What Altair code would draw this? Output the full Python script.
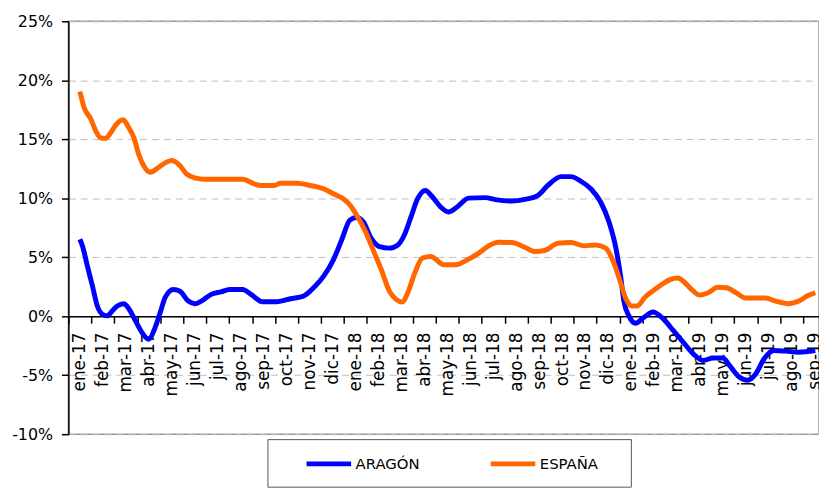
import altair as alt
import pandas as pd

months = ["ene-17", "feb-17", "mar-17", "abr-17", "may-17", "jun-17", "jul-17", "ago-17",
          "sep-17", "oct-17", "nov-17", "dic-17", "ene-18", "feb-18", "mar-18", "abr-18",
          "may-18", "jun-18", "jul-18", "ago-18", "sep-18", "oct-18", "nov-18", "dic-18",
          "ene-19", "feb-19", "mar-19", "abr-19", "may-19", "jun-19", "jul-19", "ago-19",
          "sep-19"]

# position in months (0 = ene-17), value in %
aragon_t = [0.0, 0.12, 0.33, 0.55, 0.76, 0.98, 1.19, 1.41, 1.63, 1.91, 2.13, 2.42, 2.7, 2.99,
            3.28, 3.5, 3.71, 4.07, 4.36, 4.72, 5.01, 5.29, 5.72, 6.15, 6.52, 7.09, 7.45, 7.95,
            8.6, 9.17, 9.75, 10.18, 10.61, 11.04, 11.4, 11.76, 12.05, 12.34, 12.69, 13.05,
            13.48, 13.85, 14.13, 14.42, 14.71, 15.04, 15.36, 15.71, 16.05, 16.43, 16.93,
            17.65, 18.09, 18.81, 19.38, 19.95, 20.38, 20.96, 21.39, 21.82, 22.25, 22.68,
            23.04, 23.33, 23.55, 23.69, 23.91, 24.2, 24.56, 24.96, 25.42, 25.85, 26.28,
            26.71, 27.14, 27.57, 28.0, 28.29, 28.72, 29.08, 29.44, 29.8, 30.23, 30.73,
            31.31, 32.03]
aragon_v = [6.52, 5.9, 4.22, 2.54, 0.86, 0.17, 0.03, 0.45, 0.86, 1.06, 0.64, -0.39, -1.37, -1.95,
            -0.95, 0.31, 1.57, 2.27, 2.12, 1.28, 1.06, 1.28, 1.85, 2.07, 2.27, 2.27, 1.85, 1.23,
            1.23, 1.48, 1.71, 2.41, 3.38, 4.78, 6.46, 8.14, 8.37, 8.0, 6.6, 5.9,
            5.77, 6.04, 6.88, 8.42, 9.96, 10.66, 10.1, 9.26, 8.84, 9.26, 10.01,
            10.05, 9.88, 9.76, 9.9, 10.24, 11.08, 11.83, 11.83, 11.44, 10.8, 9.68,
            8.0, 5.9, 3.38, 1.3, 0.03, -0.59, -0.11, 0.36, -0.25, -1.23, -2.21,
            -3.19, -3.75, -3.55, -3.55, -4.17, -5.15, -5.43, -4.87, -3.61, -2.91, -2.96,
            -3.05, -2.91]

espana_t = [0.0, 0.19, 0.48, 0.69, 0.91, 1.13, 1.34, 1.56, 1.88, 2.13, 2.35, 2.56, 2.78, 3.07,
            3.42, 3.71, 4.0, 4.36, 4.64, 5.01, 5.44, 7.09, 7.59, 7.88, 8.46, 8.74, 9.46, 10.03,
            10.61, 11.04, 11.47, 11.83, 12.05, 12.41, 12.77, 13.13, 13.48, 13.77, 14.03,
            14.28, 14.56, 14.92, 15.28, 15.86, 16.36, 16.93, 17.37, 17.8, 18.23, 18.81,
            19.38, 19.81, 20.24, 20.82, 21.39, 21.96, 22.47, 22.9, 23.26, 23.55, 23.76,
            24.05, 24.26, 24.63, 24.98, 25.34, 25.7, 26.06, 26.28, 26.64, 27.0, 27.36,
            27.79, 28.15, 28.58, 29.01, 29.87, 30.3, 30.88, 31.31, 31.67, 32.03]
espana_v = [19.05, 17.65, 16.7, 15.7, 15.1, 15.08, 15.55, 16.2, 16.65, 15.97, 15.13, 13.74, 12.76, 12.2,
            12.6, 13.0, 13.2, 12.76, 12.06, 11.72, 11.61, 11.61, 11.22, 11.08, 11.08, 11.27, 11.27, 11.08,
            10.8, 10.38, 9.96, 9.26, 8.56, 7.3, 5.62, 3.94, 2.12, 1.43, 1.2,
            1.99, 3.53, 4.93, 5.06, 4.36, 4.36, 4.84, 5.35, 5.96, 6.27, 6.24,
            5.85, 5.48, 5.57, 6.18, 6.24, 5.96, 6.04, 5.77, 4.5, 2.83, 1.57,
            0.86, 0.86, 1.65, 2.18, 2.69, 3.1, 3.24, 2.96, 2.27, 1.79, 1.99,
            2.46, 2.41, 1.99, 1.54, 1.54, 1.28, 1.06, 1.28, 1.71, 1.99]

y_ticks = [-10, -5, 0, 5, 10, 15, 20, 25]
series = ["ARAGÓN", "ESPAÑA"]
colors = ["#0000FF", "#FF6600"]

df = pd.concat([
    pd.DataFrame({"t": aragon_t, "v": aragon_v, "serie": series[0]}),
    pd.DataFrame({"t": espana_t, "v": espana_v, "serie": series[1]}),
], ignore_index=True)

W = 758
H = 417
band = W / (32.19 + 0.5)
month_js = "[" + ",".join("'" + m + "'" for m in months) + "]"

chart = alt.Chart(df).mark_line(strokeWidth=5, interpolate="monotone").encode(
    x=alt.X("t:Q",
            scale=alt.Scale(domain=[-0.5, 32.19], nice=False, zero=False),
            axis=alt.Axis(title=None, values=list(range(len(months))),
                          labelExpr=month_js + "[datum.value]",
                          offset=-(H * 10 / 35), grid=False,
                          domainColor="#000000", domainWidth=1.5,
                          tickColor="#000000", tickWidth=1.5, tickSize=7,
                          tickOffset=-band / 2, labelOffset=band / 2,
                          labelAngle=270, labelFont="DejaVu Sans", labelFontSize=17,
                          labelColor="#000000", labelPadding=9,
                          labelOverlap=False, labelFlush=False, labelBound=False)),
    y=alt.Y("v:Q",
            scale=alt.Scale(domain=[-10, 25], nice=False),
            axis=alt.Axis(title=None, values=y_ticks, labelExpr="datum.value + '%'",
                          domainColor="#000000", domainWidth=1.5,
                          tickColor="#000000", tickWidth=1.5, tickSize=7,
                          labelFont="DejaVu Sans", labelFontSize=16, labelColor="#000000",
                          labelPadding=9, grid=True, gridColor="#bdbdbd",
                          gridDash=[7, 5], gridWidth=1)),
    color=alt.Color("serie:N",
                    scale=alt.Scale(domain=series, range=colors),
                    legend=alt.Legend(orient="none", legendX=201, legendY=422,
                                      direction="horizontal", title="\u00a0",
                                      titleOrient="right", titleFontSize=60,
                                      titlePadding=33, titleColor="#ffffff",
                                      symbolType="stroke", symbolSize=2025,
                                      symbolStrokeWidth=5, labelFont="DejaVu Sans",
                                      labelFontSize=15, labelColor="#000000",
                                      labelOffset=2, strokeColor="#555555",
                                      padding=0, columnPadding=32, symbolOffset=37)),
).properties(
    width=W, height=H,
    autosize=alt.AutoSizeParams(type="none"),
    padding={"left": 61, "top": 11, "right": 0, "bottom": 56},
).configure_view(
    stroke="#999999", strokeWidth=1.5
)

chart.save("out.html", embed_options={"renderer": "svg", "actions": False})
